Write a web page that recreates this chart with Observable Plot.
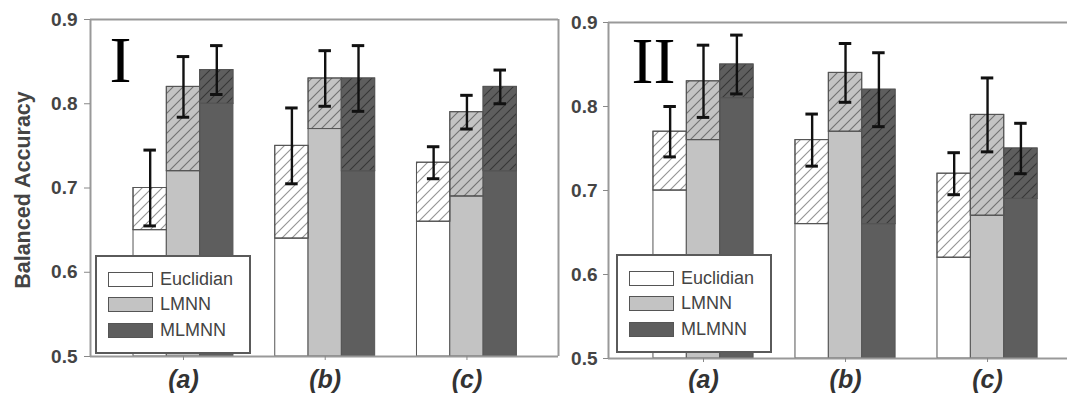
<!DOCTYPE html>
<html><head><meta charset="utf-8">
<script src="https://cdn.jsdelivr.net/npm/d3@7"></script>
<script src="https://cdn.jsdelivr.net/npm/@observablehq/plot@0.6"></script>
<style>
html,body{margin:0;padding:0;background:#fff;}
#chart{position:relative;width:1067px;height:394px;overflow:hidden;font-family:"Liberation Sans",Arial,sans-serif;}
.panel{position:absolute;top:0;}
.legend{position:absolute;box-sizing:border-box;background:#fff;border:2px solid #5a5a5a;}
.legend .row{position:absolute;display:flex;align-items:center;height:15px;}
.legend .sw{box-sizing:border-box;width:45px;height:15px;border:1.5px solid #555;}
.legend .lab{margin-left:7px;font-size:18px;color:#444;line-height:15px;}
</style></head><body>
<svg width="0" height="0" style="position:absolute"><defs>
<pattern id="hatch" patternUnits="userSpaceOnUse" width="10" height="10">
<path d="M-1,1 l2,-2 M0,10 l10,-10 M9,11 l2,-2" stroke="rgba(0,0,0,0.42)" stroke-width="1.1" fill="none"/>
</pattern></defs></svg>
<div id="chart"></div>
<script>
// ---- data ----
const groups = ["(a)", "(b)", "(c)"];
const series = ["Euclidian", "LMNN", "MLMNN"];
const panelNames = ["I", "II"];
const yTicks = [0.5, 0.6, 0.7, 0.8, 0.9];
// rows = groups (a),(b),(c); columns = Euclidian, LMNN, MLMNN
const baseI  = [[0.65, 0.72, 0.80], [0.64, 0.77, 0.72], [0.66, 0.69, 0.72]];
const totalI = [[0.70, 0.82, 0.84], [0.75, 0.83, 0.83], [0.73, 0.79, 0.82]];
const errI   = [[0.045, 0.036, 0.029], [0.045, 0.033, 0.039], [0.019, 0.020, 0.020]];
const baseII  = [[0.70, 0.76, 0.81], [0.66, 0.77, 0.66], [0.62, 0.67, 0.69]];
const totalII = [[0.77, 0.83, 0.85], [0.76, 0.84, 0.82], [0.72, 0.79, 0.75]];
const errII   = [[0.030, 0.043, 0.035], [0.031, 0.035, 0.044], [0.025, 0.044, 0.030]];

// ---- styles ----
const seriesColors = ["#ffffff", "#c3c3c3", "#5e5e5e"];
const fontSans = '"Liberation Sans", Arial, sans-serif';

function rowsFor(base, total, err) {
  const out = [];
  groups.forEach((g, gi) => series.forEach((s, si) => {
    out.push({group: g, gi, series: s, si, base: base[gi][si], total: total[gi][si], err: err[gi][si]});
  }));
  return out;
}

function makePanel(cfg) {
  const w = 0.235, cap = 0.044;
  const rows = rowsFor(cfg.base, cfg.total, cfg.err);
  const xc = d => d.gi + (d.si - 1) * w;
  const x1 = d => xc(d) - w / 2, x2 = d => xc(d) + w / 2;
  const marks = [
    Plot.rect(rows, {x1, x2, y1: () => yTicks[0], y2: "base", fill: "series", stroke: "#555", strokeWidth: 1}),
    Plot.rect(rows, {x1, x2, y1: "base", y2: "total", fill: "series", stroke: "#555", strokeWidth: 1}),
    Plot.rect(rows, {x1, x2, y1: "base", y2: "total", fill: "url(#hatch)", stroke: "#555", strokeWidth: 1}),
    Plot.ruleX(rows, {x: xc, y1: d => d.total - d.err, y2: d => d.total + d.err, stroke: "#111", strokeWidth: 2.4}),
    Plot.ruleY(rows, {y: d => d.total + d.err, x1: d => xc(d) - cap, x2: d => xc(d) + cap, stroke: "#111", strokeWidth: 3}),
    Plot.ruleY(rows, {y: d => d.total - d.err, x1: d => xc(d) - cap, x2: d => xc(d) + cap, stroke: "#111", strokeWidth: 3}),
    Plot.ruleY([yTicks[0], yTicks[yTicks.length - 1]], {stroke: "#999", strokeWidth: 2}),
    Plot.ruleX(cfg.frameX, {stroke: "#999", strokeWidth: 2}),
    Plot.axisY(yTicks, {tickSize: cfg.tickSize, tickPadding: cfg.tickPadding, tickFormat: d3.format(".1f"),
      fontSize: 19, fontWeight: "bold", fill: "#444", stroke: "#888", label: null}),
    Plot.axisX([0, 1, 2], {tickSize: 4, tickPadding: cfg.xPad, tickFormat: i => groups[i],
      fontSize: 25, fontWeight: "bold", fontStyle: "italic", fill: "#333", stroke: "#888", label: null}),
    Plot.text([cfg.name], {frameAnchor: "top-left", textAnchor: "start", lineAnchor: "bottom",
      dx: cfg.nameDx, dy: cfg.nameDy, fontSize: 66, fontFamily: '"Liberation Serif", "Times New Roman", serif', fill: "#000"})
  ];
  if (cfg.title) {
    marks.push(Plot.text([cfg.title], {frameAnchor: "left", textAnchor: "middle", lineAnchor: "middle", rotate: -90,
      dx: -67, dy: 2, fontSize: 21.5, fontWeight: "bold", fill: "#444"}));
  }
  return Plot.plot({
    width: cfg.width, height: 394,
    marginLeft: cfg.ml, marginRight: cfg.mr, marginTop: cfg.mt, marginBottom: cfg.mb,
    x: {domain: cfg.xDomain, axis: null},
    y: {domain: [yTicks[0], yTicks[yTicks.length - 1]], axis: null},
    color: {domain: series, range: seriesColors},
    style: {fontFamily: fontSans, background: "transparent", overflow: "visible"},
    marks
  });
}

function makeLegend(left, top) {
  const div = document.createElement("div");
  div.className = "legend";
  div.style.left = left + "px"; div.style.top = top + "px";
  div.style.width = "156px"; div.style.height = "99px";
  const offs = [15, 40, 66];
  series.forEach((s, i) => {
    const row = document.createElement("div");
    row.className = "row";
    row.style.left = "11px"; row.style.top = offs[i] + "px";
    const sw = document.createElement("div");
    sw.className = "sw"; sw.style.background = seriesColors[i];
    const lab = document.createElement("span");
    lab.className = "lab"; lab.textContent = s;
    row.appendChild(sw); row.appendChild(lab);
    div.appendChild(row);
  });
  return div;
}

const chart = document.getElementById("chart");
const configs = [
  {name: panelNames[0], base: baseI, total: totalI, err: errI, left: 0, width: 560, ml: 90, mr: 2, mt: 19, mb: 38,
   xDomain: [-0.656, 2.646], frameX: [-0.656, 2.646], tickSize: 6, tickPadding: 7, xPad: 10,
   nameDx: 19, nameDy: 62, title: "Balanced Accuracy", legend: [95, 255]},
  {name: panelNames[1], base: baseII, total: totalII, err: errII, left: 560, width: 507, ml: 48, mr: 0, mt: 22, mb: 36,
   xDomain: [-0.669, 2.563], frameX: [-0.669], tickSize: 5, tickPadding: 6, xPad: 8,
   nameDx: 23, nameDy: 60, title: null, legend: [616, 254]}
];
configs.forEach(cfg => {
  const holder = document.createElement("div");
  holder.className = "panel";
  holder.style.left = cfg.left + "px";
  holder.appendChild(makePanel(cfg));
  chart.appendChild(holder);
});
configs.forEach(cfg => chart.appendChild(makeLegend(cfg.legend[0], cfg.legend[1])));
</script>
</body></html>
